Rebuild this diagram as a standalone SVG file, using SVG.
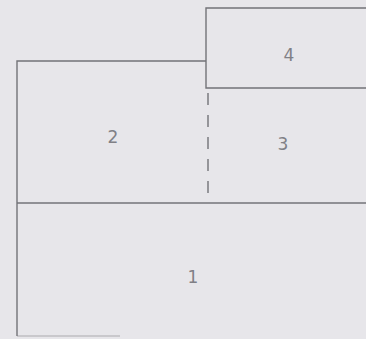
<svg xmlns="http://www.w3.org/2000/svg" width="366" height="339" viewBox="0 0 366 339">
<style>
.ln{stroke:#737378;stroke-width:1.4;fill:none}
.lbl{font-family:"DejaVu Sans",sans-serif;font-size:17px;fill:#808086;text-anchor:middle}
</style>
<rect width="366" height="339" fill="#e7e6ea"/>
<g id="node-4">
<path class="ln" d="M366 8 H206 V88 H366"/>
<text class="lbl" x="289" y="61">4</text>
</g>
<g id="node-2">
<path class="ln" d="M206 61 H17 V336"/>
<text class="lbl" x="113" y="143">2</text>
</g>
<g id="node-3">
<text class="lbl" x="283" y="150">3</text>
</g>
<g id="node-1">
<path class="ln" d="M17 203 H366"/>
<path class="ln" d="M17 336 H120" stroke-opacity="0.35"/>
<text class="lbl" x="193" y="283">1</text>
</g>
<g id="connectors">
<path class="ln" d="M208 93 V200" stroke-dasharray="12 10" stroke-width="1.3"/>
</g>
</svg>
